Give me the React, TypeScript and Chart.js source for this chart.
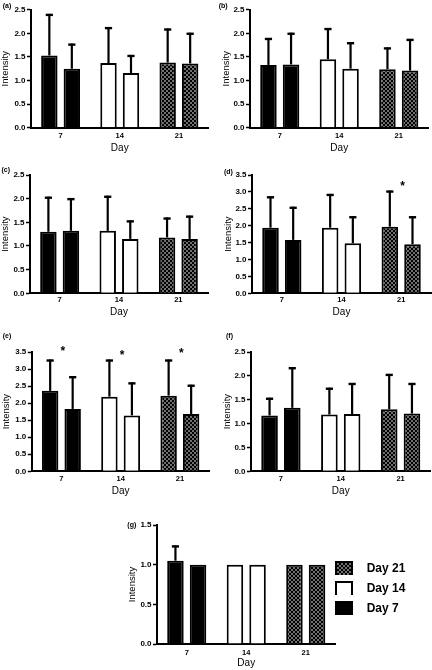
import React, { useEffect, useRef } from "react";
import { Chart, registerables } from "chart.js";

Chart.register(...registerables);

const FONT = "'Liberation Sans', Arial, Helvetica, sans-serif";

// ---- categories / labels ----
const days = ["7", "14", "21"];
const legendLabels = ["Day 21", "Day 14", "Day 7"];
const panelLetters = ["(a)", "(b)", "(c)", "(d)", "(e)", "(f)", "(g)"];
const yMaxes = [2.5, 2.5, 2.5, 3.5, 3.5, 2.5, 1.5];
const yStep = 0.5;

// ---- data: mean and SD of the two bars in each day group ----
const aMean1 = [1.53, 1.37, 1.38];
const aSd1 = [0.86, 0.74, 0.7];
const aMean2 = [1.25, 1.16, 1.36];
const aSd2 = [0.51, 0.36, 0.63];

const bMean1 = [1.33, 1.45, 1.24];
const bSd1 = [0.55, 0.64, 0.44];
const bMean2 = [1.34, 1.25, 1.21];
const bSd2 = [0.65, 0.54, 0.65];

const cMean1 = [1.3, 1.32, 1.18];
const cSd1 = [0.72, 0.72, 0.4];
const cMean2 = [1.32, 1.15, 1.15];
const cSd2 = [0.67, 0.37, 0.47];

const dMean1 = [1.94, 1.94, 1.97];
const dSd1 = [0.9, 0.97, 1.04];
const dMean2 = [1.58, 1.48, 1.45];
const dSd2 = [0.95, 0.77, 0.8];
const dStars = [null, null, 3.26];

const eMean1 = [2.36, 2.19, 2.22];
const eSd1 = [0.89, 1.06, 1.03];
const eMean2 = [1.83, 1.64, 1.68];
const eSd2 = [0.93, 0.94, 0.83];
const eStars = [3.62, 3.5, 3.56];

const fMean1 = [1.17, 1.19, 1.3];
const fSd1 = [0.35, 0.54, 0.72];
const fMean2 = [1.33, 1.2, 1.21];
const fSd2 = [0.83, 0.63, 0.62];

const gMean1 = [1.05, 1.0, 1.0];
const gSd1 = [0.18, 0, 0];
const gMean2 = [1.0, 1.0, 1.0];
const gSd2 = [0, 0, 0];

const means1 = [aMean1, bMean1, cMean1, dMean1, eMean1, fMean1, gMean1];
const sds1 = [aSd1, bSd1, cSd1, dSd1, eSd1, fSd1, gSd1];
const means2 = [aMean2, bMean2, cMean2, dMean2, eMean2, fMean2, gMean2];
const sds2 = [aSd2, bSd2, cSd2, dSd2, eSd2, fSd2, gSd2];
const starSets = [null, null, null, dStars, eStars, null, null];

// ---- layout (page pixels) ----
type Lay = {
  cl: number; ct: number; cw: number; ch: number;
  left: number; right: number; top: number; bottom: number;
  titleX: number; tickOff: number; dayOff: number;
  lx: number; ly: number;
};
const layouts: Lay[] = [
  { cl: 0, ct: 0, cw: 216, ch: 155, left: 31, right: 208.5, top: 9.7, bottom: 127.7, titleX: 5.7, tickOff: 8.7, dayOff: 20.2, lx: 2.7, ly: 2.4 },
  { cl: 221, ct: 0, cw: 211, ch: 155, left: 250, right: 428.5, top: 9.7, bottom: 127.7, titleX: 226.8, tickOff: 8.7, dayOff: 20.3, lx: 218.7, ly: 2.4 },
  { cl: 0, ct: 160, cw: 216, ch: 159, left: 30, right: 208, top: 175, bottom: 293.3, titleX: 5.7, tickOff: 6.5, dayOff: 19.4, lx: 1.5, ly: 166 },
  { cl: 221, ct: 160, cw: 211, ch: 159, left: 252, right: 431, top: 175, bottom: 293.3, titleX: 228.7, tickOff: 6.5, dayOff: 19.4, lx: 224, ly: 168 },
  { cl: 0, ct: 330, cw: 216, ch: 168, left: 31.8, right: 209.5, top: 352, bottom: 471.3, titleX: 6, tickOff: 8, dayOff: 20.2, lx: 2.7, ly: 331.8 },
  { cl: 221, ct: 330, cw: 211, ch: 168, left: 251, right: 430.5, top: 352, bottom: 471.3, titleX: 227, tickOff: 8, dayOff: 20.2, lx: 226, ly: 332 },
  { cl: 127, ct: 505, cw: 305, ch: 164, left: 157, right: 335.5, top: 525, bottom: 644, titleX: 132.8, tickOff: 9.2, dayOff: 19, lx: 127.3, ly: 521.4 },
];

function makeDotPattern(ctx: CanvasRenderingContext2D) {
  const c = document.createElement("canvas");
  c.width = 4;
  c.height = 4;
  const g = c.getContext("2d")!;
  g.fillStyle = "#000";
  g.fillRect(0, 0, 4, 4);
  g.fillStyle = "#fff";
  g.beginPath();
  g.arc(1, 1, 0.8, 0, Math.PI * 2);
  g.fill();
  g.beginPath();
  g.arc(3, 3, 0.8, 0, Math.PI * 2);
  g.fill();
  return ctx.createPattern(c, "repeat")!;
}

const errorBarPlugin = {
  id: "errorBars",
  afterDatasetsDraw(chart: any) {
    const ctx = chart.ctx;
    const ys = chart.scales.y;
    chart.data.datasets.forEach((ds: any, di: number) => {
      const meta = chart.getDatasetMeta(di);
      meta.data.forEach((bar: any, i: number) => {
        const sd = ds.sd[i];
        if (!sd) return;
        const x = bar.x;
        const y0 = bar.y;
        const y1 = ys.getPixelForValue(ds.data[i] + sd);
        ctx.save();
        ctx.strokeStyle = "#000";
        ctx.lineCap = "butt";
        ctx.lineWidth = 2.2;
        ctx.beginPath();
        ctx.moveTo(x, y0);
        ctx.lineTo(x, y1 - 1);
        ctx.stroke();
        ctx.lineWidth = 2.4;
        ctx.beginPath();
        ctx.moveTo(x - 3.6, y1);
        ctx.lineTo(x + 3.6, y1);
        ctx.stroke();
        ctx.restore();
      });
    });
  },
};

function makeStarPlugin(values: (number | null)[] | null) {
  return {
    id: "stars",
    afterDatasetsDraw(chart: any) {
      if (!values) return;
      const ctx = chart.ctx;
      const xs = chart.scales.x;
      const ys = chart.scales.y;
      ctx.save();
      ctx.fillStyle = "#000";
      ctx.font = `bold 12px ${FONT}`;
      ctx.textAlign = "center";
      ctx.textBaseline = "alphabetic";
      values.forEach((v, i) => {
        if (v == null) return;
        const x = xs.getPixelForValue(i) + 1.5;
        const y = ys.getPixelForValue(v) + 0.573 * 12;
        ctx.fillText("*", x, y);
      });
      ctx.restore();
    },
  };
}

function makeLegendPlugin(fills: any[]) {
  return {
    id: "dayLegend",
    afterDraw(chart: any) {
      const { ctx, chartArea } = chart;
      const x0 = chartArea.right - 0.5;
      ctx.save();
      legendLabels.forEach((label, i) => {
        const top = chartArea.top + 36 + i * 20;
        const w = 18;
        const h = 14;
        ctx.fillStyle = fills[i];
        ctx.fillRect(x0, top, w, h);
        ctx.strokeStyle = "#000";
        ctx.lineWidth = 2;
        ctx.beginPath();
        ctx.moveTo(x0 + 1, top + h);
        ctx.lineTo(x0 + 1, top + 1);
        ctx.lineTo(x0 + w - 1, top + 1);
        ctx.lineTo(x0 + w - 1, top + h);
        ctx.stroke();
        ctx.fillStyle = "#000";
        ctx.font = `bold 12px ${FONT}`;
        ctx.textAlign = "left";
        ctx.textBaseline = "middle";
        ctx.fillText(label, x0 + 31.7, top + h / 2 + 0.5);
      });
      ctx.restore();
    },
  };
}

function Panel({ idx }: { idx: number }) {
  const ref = useRef<HTMLCanvasElement | null>(null);
  const L = layouts[idx];
  useEffect(() => {
    const canvas = ref.current!;
    const ctx = canvas.getContext("2d")!;
    const pattern = makeDotPattern(ctx);
    const dayFills = ["#000000", "#ffffff", pattern];
    const titleSize = 9.5;
    const half = (titleSize * 1.2) / 2;
    const padLeft = Math.max(0, L.titleX - half - L.cl);
    const yAxisW = L.left - L.cl - padLeft;
    const padTop = L.top - L.ct;
    const xAxisH = L.dayOff + 6;
    const padBottom = L.ct + L.ch - L.bottom - xAxisH;
    const padRight = L.cl + L.cw - L.right;
    const zeroPad = (s: any) => {
      s.paddingLeft = 0;
      s.paddingRight = 0;
      s.paddingTop = 0;
      s.paddingBottom = 0;
    };
    const barCommon = {
      borderColor: "#000000",
      borderWidth: 2,
      categoryPercentage: 0.76,
      barPercentage: 0.73,
      backgroundColor: dayFills,
    };
    const plugins: any[] = [errorBarPlugin, makeStarPlugin(starSets[idx])];
    if (idx === 6) plugins.push(makeLegendPlugin([pattern, "#ffffff", "#000000"]));
    const chart = new Chart(canvas, {
      type: "bar",
      data: {
        labels: days,
        datasets: [
          { ...barCommon, data: means1[idx], sd: sds1[idx] } as any,
          { ...barCommon, data: means2[idx], sd: sds2[idx] } as any,
        ],
      },
      options: {
        responsive: false,
        animation: false,
        devicePixelRatio: 1,
        events: [],
        layout: {
          autoPadding: false,
          padding: { left: padLeft, right: padRight, top: padTop, bottom: padBottom },
        },
        plugins: { legend: { display: false }, tooltip: { enabled: false } },
        scales: {
          x: {
            type: "category",
            offset: true,
            z: 1,
            grid: { display: false, drawTicks: false },
            border: { display: true, color: "#000", width: 2 },
            ticks: {
              color: "#000",
              font: { family: FONT, size: 7.5, weight: "bold" },
              padding: L.tickOff - 4.5,
              maxRotation: 0,
              autoSkip: false,
            },
            title: { display: true, text: "Day", color: "#000", font: { family: FONT, size: 10 }, padding: 0 },
            afterFit: (s: any) => {
              s.height = xAxisH;
              zeroPad(s);
            },
          },
          y: {
            min: 0,
            max: yMaxes[idx],
            z: 1,
            grid: {
              display: true,
              drawOnChartArea: false,
              drawTicks: true,
              tickLength: 4,
              tickColor: "#000",
              tickWidth: 1.5,
              color: "#000",
            },
            border: { display: true, color: "#000", width: 2 },
            ticks: {
              stepSize: yStep,
              color: "#000",
              font: { family: FONT, size: 8, weight: "bold" },
              padding: 1.5,
              callback: (v: any) => Number(v).toFixed(1),
            },
            title: { display: true, text: "Intensity", color: "#000", font: { family: FONT, size: titleSize }, padding: 0 },
            afterFit: (s: any) => {
              s.width = yAxisW;
              zeroPad(s);
            },
          },
        },
      } as any,
      plugins,
    });
    return () => chart.destroy();
  }, []);
  return (
    <canvas
      ref={ref}
      width={L.cw}
      height={L.ch}
      style={{ position: "absolute", left: L.cl, top: L.ct, width: L.cw, height: L.ch }}
    />
  );
}

export default function App() {
  return (
    <div style={{ position: "absolute", left: 0, top: 0, width: 432, height: 670, background: "#fff", overflow: "hidden" }}>
      {layouts.map((_, i) => (
        <Panel key={i} idx={i} />
      ))}
      {layouts.map((L, i) => (
        <span
          key={"l" + i}
          style={{
            position: "absolute",
            left: L.lx,
            top: L.ly,
            fontFamily: FONT,
            fontSize: 7,
            fontWeight: "bold",
            lineHeight: 1,
            color: "#000",
            whiteSpace: "nowrap",
          }}
        >
          {panelLetters[i]}
        </span>
      ))}
    </div>
  );
}
